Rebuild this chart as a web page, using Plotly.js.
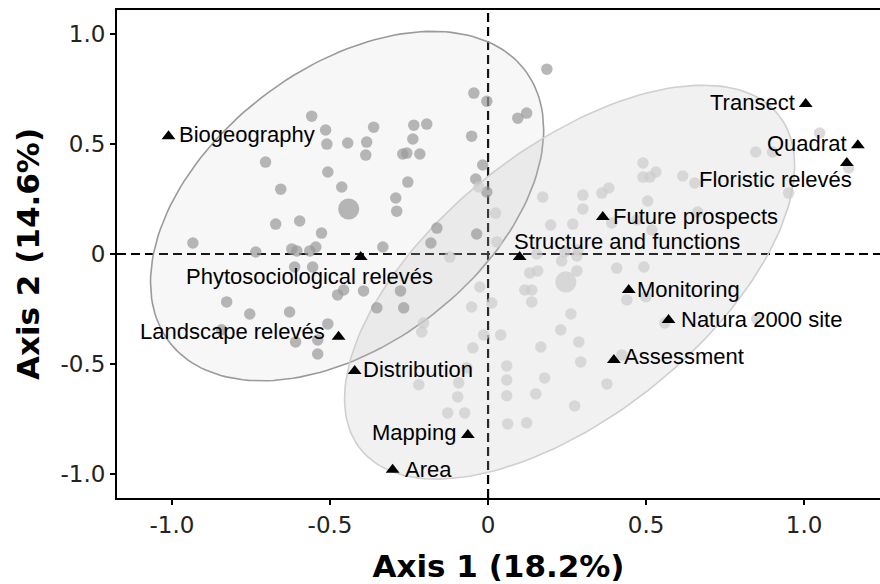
<!DOCTYPE html>
<html><head><meta charset="utf-8">
<script src="https://cdn.plot.ly/plotly-3.0.1.min.js"></script>
<style>body{margin:0;background:#fff}</style>
</head><body><div id="chart" style="width:880px;height:584px"></div>
<script>
// Group 1 (dark grey) site scores
const darkX = [-0.558,-0.514,-0.510,-0.444,-0.384,-0.362,-0.387,-0.235,-0.194,-0.238,-0.270,-0.257,-0.216,-0.045,-0.004,-0.052,-0.017,-0.039,-0.004,-0.704,-0.656,-0.507,-0.463,-0.441,-0.254,-0.292,-0.289,-0.672,-0.596,-0.527,-0.934,-0.735,-0.621,-0.605,-0.564,-0.545,-0.333,-0.162,-0.181,-0.036,0.186,0.094,0.122,-0.612,-0.555,-0.476,-0.457,-0.394,-0.277,-0.827,-0.754,-0.628,-0.507,-0.352,-0.267,-0.609,-0.539,-0.539,-0.843];
const darkY = [0.627,0.564,0.500,0.505,0.509,0.577,0.450,0.586,0.591,0.523,0.455,0.459,0.455,0.732,0.695,0.536,0.405,0.341,0.282,0.418,0.295,0.373,0.305,0.205,0.327,0.255,0.195,0.136,0.150,0.095,0.050,0.009,0.023,0.014,0.014,0.032,0.032,0.118,0.050,0.091,0.841,0.618,0.641,-0.059,-0.059,-0.186,-0.164,-0.168,-0.168,-0.218,-0.273,-0.264,-0.318,-0.245,-0.245,-0.400,-0.391,-0.455,-0.345];
const darkCount = [1,1,1,1,1,1,1,1,1,1,1,1,1,1,1,1,1,1,1,1,1,1,1,4,1,1,1,1,1,1,1,1,1,1,1,1,1,1,1,1,1,1,1,1,1,1,1,1,1,1,1,1,1,1,1,1,1,1,1];

// Group 2 (light grey) site scores
const lightX = [1.049,0.847,0.900,1.141,0.490,0.490,0.512,0.531,0.616,0.654,0.951,0.173,0.300,0.360,0.382,0.505,0.300,0.198,0.268,0.391,0.471,0.518,0.663,0.024,0.028,-0.029,-0.121,0.154,0.243,0.284,0.233,0.281,0.132,0.157,0.246,0.281,0.407,0.493,0.116,0.138,0.138,0.012,-0.026,0.439,0.499,0.262,0.230,0.167,0.287,0.293,0.423,0.559,0.850,0.179,0.151,0.376,0.274,0.122,0.062,0.059,0.059,0.059,0.040,-0.014,-0.048,-0.052,-0.204,-0.210,-0.219,-0.093,-0.096,-0.128,-0.074,-0.067];
const lightY = [0.550,0.464,0.464,0.391,0.414,0.350,0.350,0.373,0.355,0.323,0.277,0.259,0.268,0.277,0.300,0.241,0.205,0.132,0.136,0.141,0.155,0.109,0.191,0.186,0.055,0.305,-0.014,0.000,0.009,0.018,-0.032,-0.009,-0.086,-0.077,-0.127,-0.077,-0.064,-0.059,-0.164,-0.164,-0.218,-0.223,-0.150,-0.209,-0.195,-0.273,-0.345,-0.423,-0.400,-0.491,-0.459,-0.314,-0.295,-0.564,-0.636,-0.591,-0.691,-0.768,-0.773,-0.645,-0.573,-0.509,-0.368,-0.368,-0.427,-0.241,-0.314,-0.355,-0.595,-0.586,-0.650,-0.723,-0.723,-0.518];
const lightCount = [1,1,1,1,1,1,1,1,1,1,1,1,1,1,1,1,1,1,1,1,1,1,1,1,1,1,1,1,1,1,1,1,1,1,4,1,1,1,1,1,1,1,1,1,1,1,1,1,1,1,1,1,1,1,1,1,1,1,1,1,1,1,1,1,1,1,1,1,1,1,1,1,1,1];

// Variables (triangles)
const varNames = ["Biogeography","Transect","Quadrat","Floristic relevés","Future prospects","Structure and functions","Phytosociological relevés","Landscape relevés","Distribution","Mapping","Area","Monitoring","Natura 2000 site","Assessment"];
const varX = [-1.011,1.005,1.170,1.135,0.363,0.100,-0.403,-0.473,-0.422,-0.064,-0.302,0.445,0.571,0.398];
const varY = [0.536,0.682,0.495,0.414,0.168,-0.014,-0.014,-0.377,-0.532,-0.823,-0.982,-0.164,-0.300,-0.482];

// Confidence ellipses (centre, half extents, y offset at x-extreme)
const ellipseDark  = {cx:-0.446, cy:0.218, xHalf:0.622, yHalf:0.795, yAtXmax:0.346};
const ellipseLight = {cx:0.258,  cy:-0.128, xHalf:0.712, yHalf:0.896, yAtXmax:0.530};

const xTitle = "Axis 1 (18.2%)";
const yTitle = "Axis 2 (14.6%)";
const tickVals = [-1,-0.5,0,0.5,1];
const tickText = ["-1.0","-0.5","0","0.5","1.0"];

// label placement (style)
const place = {
 "Biogeography":{xa:"left",dx:8,dy:2},
 "Transect":{xa:"right",dx:-9,dy:2},
 "Quadrat":{xa:"right",dx:-9,dy:2},
 "Floristic relevés":{xa:"right",dx:7,dy:-17},
 "Future prospects":{xa:"left",dx:8,dy:1},
 "Structure and functions":{xa:"left",dx:-8,dy:16},
 "Phytosociological relevés":{xa:"right",dx:74,dy:-19},
 "Landscape relevés":{xa:"right",dx:-12,dy:5},
 "Distribution":{xa:"left",dx:6,dy:1},
 "Mapping":{xa:"right",dx:-10,dy:2},
 "Area":{xa:"left",dx:10,dy:0},
 "Monitoring":{xa:"left",dx:6,dy:1},
 "Natura 2000 site":{xa:"left",dx:10,dy:0},
 "Assessment":{xa:"left",dx:8,dy:3}
};

function ellipsePts(e){
  const xs=[], ys=[]; const b=Math.sqrt(e.yHalf*e.yHalf - e.yAtXmax*e.yAtXmax);
  for(let i=0;i<=180;i++){const t=2*Math.PI*i/180;
    xs.push(e.cx + e.xHalf*Math.cos(t));
    ys.push(e.cy + e.yAtXmax*Math.cos(t) + b*Math.sin(t));}
  return {xs, ys};
}
const eD = ellipsePts(ellipseDark), eL = ellipsePts(ellipseLight);
const sz = c => 11.5 + (c-1)*3.2;

const traces = [
 {x:eD.xs, y:eD.ys, mode:"lines", fill:"toself", fillcolor:"rgba(190,190,190,0.12)", line:{color:"#9a9a9a", width:1.6}, hoverinfo:"skip"},
 {x:eL.xs, y:eL.ys, mode:"lines", fill:"toself", fillcolor:"rgba(190,190,190,0.22)", line:{color:"#cfcfcf", width:1.6}, hoverinfo:"skip"},
 {x:darkX, y:darkY, mode:"markers", marker:{color:"#999999", size:darkCount.map(sz), line:{width:0}}},
 {x:lightX, y:lightY, mode:"markers", marker:{color:"#cccccc", size:lightCount.map(sz), line:{width:0}}},
 {x:varX, y:varY, mode:"markers", marker:{color:"#000", symbol:"triangle-up", size:12, line:{width:0}}}
];

const annotations = varNames.map((n,i)=>({
  x:varX[i], y:varY[i], text:n, showarrow:false, xanchor:place[n].xa, yanchor:"middle",
  xshift:place[n].dx, yshift:place[n].dy,
  font:{family:"Liberation Sans, Arial, sans-serif", size:22, color:"#000"}
}));

const layout = {
  width:880, height:584, showlegend:false,
  margin:{l:117, r:0, t:10, b:86},
  paper_bgcolor:"#fff", plot_bgcolor:"#fff",
  xaxis:{range:[-1.174,1.24], tickvals:tickVals, ticktext:tickText,
    showgrid:false, zeroline:false, showline:true, linecolor:"#000", linewidth:2, mirror:true,
    ticks:"outside", ticklen:5, tickwidth:1.5, tickcolor:"#000",
    tickfont:{family:"DejaVu Sans", size:23, color:"#222"},
    title:{text:xTitle, font:{family:"DejaVu Sans", size:31, color:"#000", weight:"bold"}, standoff:19}},
  yaxis:{range:[-1.11,1.11], tickvals:tickVals, ticktext:tickText,
    showgrid:false, zeroline:false, showline:true, linecolor:"#000", linewidth:2,
    ticks:"outside", ticklen:5, tickwidth:1.5, tickcolor:"#000",
    tickfont:{family:"DejaVu Sans", size:23, color:"#222"},
    title:{text:yTitle, font:{family:"DejaVu Sans", size:31, color:"#000", weight:"bold"}, standoff:12}},
  shapes:[
    {type:"line", xref:"x", yref:"paper", x0:0, x1:0, y0:0, y1:1, layer:"below", line:{color:"#000", width:2.2, dash:"9px,5px"}},
    {type:"line", xref:"paper", yref:"y", x0:0, x1:1, y0:0, y1:0, layer:"below", line:{color:"#000", width:2.2, dash:"9px,5px"}}
  ],
  annotations
};
Plotly.newPlot("chart", traces, layout, {staticPlot:true, displayModeBar:false});
</script></body></html>
